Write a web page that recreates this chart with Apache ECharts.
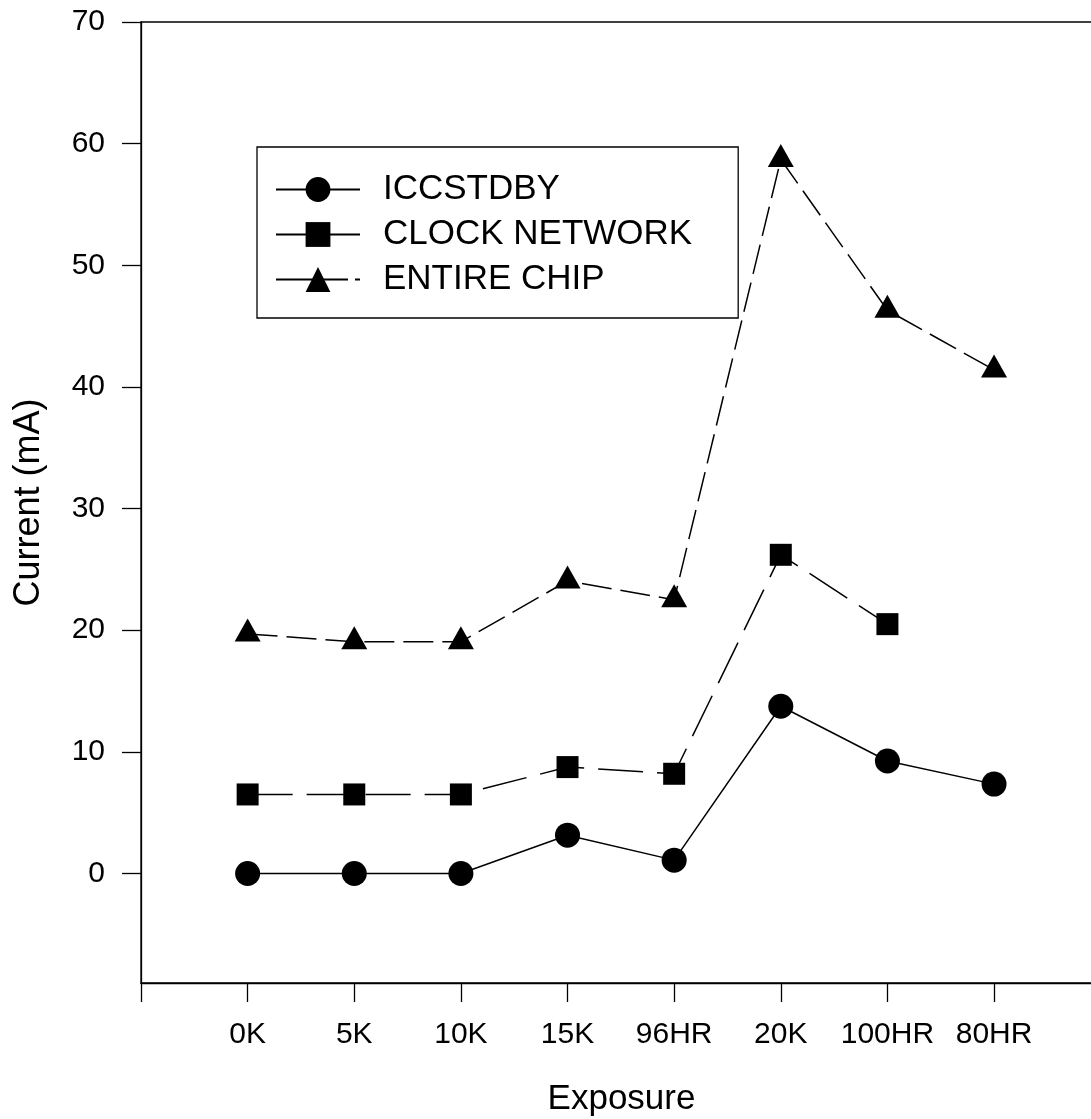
<!doctype html>
<html>
<head>
    <meta charset="utf-8">
    <title>Current vs Exposure</title>
    <script src="https://cdn.jsdelivr.net/npm/echarts@6/dist/echarts.min.js"></script>
    <style>
        html, body { margin: 0; padding: 0; background: #fff; }
        #main { width: 1091px; height: 1119px; }
    </style>
</head>
<body>
    <div id="main"></div>
    <script type="text/javascript">
        // exposure steps along the x axis
        var exposure = ['0K', '5K', '10K', '15K', '96HR', '20K', '100HR', '80HR'];
        var iccStdby = [0, 0, 0, 3.15, 1.1, 13.75, 9.25, 7.35];
        var clockNetwork = [6.5, 6.5, 6.5, 8.75, 8.2, 26.2, 20.5];   // no 80HR reading
        var entireChip = [19.7, 19.05, 19.05, 24.05, 22.5, 58.7, 46.3, 41.4];
        var yTicks = [0, 10, 20, 30, 40, 50, 60, 70];

        var FONT = "'Liberation Sans', Arial, sans-serif";

        function toPoints(arr) {
            var out = [];
            for (var i = 0; i < arr.length; i++) {
                out.push([i, arr[i]]);
            }
            return out;
        }

        var myChart = echarts.init(document.getElementById('main'));
        var option = {
            animation: false,
            textStyle: { fontFamily: FONT, color: '#000' },
            grid: {
                left: 141,
                right: -63,   // plot runs past the right edge of the picture
                top: 22,
                bottom: 136,
                outerBoundsMode: 'none',
                containLabel: false,
                show: true,
                borderColor: '#000',
                borderWidth: 1.3,
                backgroundColor: 'transparent'
            },
            legend: {
                orient: 'vertical',
                left: 257,
                top: 147,
                padding: [25, 46, 21, 18],
                itemGap: 10,
                itemWidth: 84,
                itemHeight: 31,
                borderColor: '#000',
                borderWidth: 1.3,
                textStyle: { fontFamily: FONT, fontSize: 35, color: '#000', padding: [0, 0, 0, 18] },
                data: [
                    { name: 'ICCSTDBY', lineStyle: { type: 'solid' } },
                    { name: 'CLOCK NETWORK', lineStyle: { type: 'solid' } },
                    { name: 'ENTIRE CHIP', lineStyle: { type: [72, 7] } }
                ]
            },
            xAxis: {
                type: 'value',
                min: -1,
                max: 8.5,
                interval: 1,
                name: 'Exposure',
                nameLocation: 'middle',
                nameGap: 99,
                nameTextStyle: { fontFamily: FONT, fontSize: 35, color: '#000', padding: [0, 52, 0, 0] },
                axisLine: { onZero: false, lineStyle: { color: '#000', width: 1.3 } },
                axisTick: { show: true, inside: false, length: 19, lineStyle: { color: '#000', width: 1.3 } },
                axisLabel: {
                    margin: 37,
                    fontFamily: FONT,
                    fontSize: 30,
                    color: '#000',
                    showMinLabel: true,
                    showMaxLabel: true,
                    formatter: function (v) {
                        return exposure[v] !== undefined ? exposure[v] : '';
                    }
                },
                splitLine: { show: false }
            },
            yAxis: {
                type: 'value',
                min: -9,
                max: 70,
                name: 'Current (mA)',
                nameLocation: 'middle',
                nameGap: 94,
                nameTextStyle: { fontFamily: FONT, fontSize: 36, color: '#000' },
                axisLine: { show: true, onZero: false, lineStyle: { color: '#000', width: 1.3 } },
                axisTick: { show: true, inside: false, length: 19, customValues: yTicks, lineStyle: { color: '#000', width: 1.3 } },
                axisLabel: { margin: 36, fontFamily: FONT, fontSize: 30, color: '#000', customValues: yTicks },
                splitLine: { show: false }
            },
            series: [
                {
                    name: 'ICCSTDBY',
                    type: 'line',
                    data: toPoints(iccStdby),
                    symbol: 'circle',
                    symbolSize: 25,
                    itemStyle: { color: '#000' },
                    lineStyle: { color: '#000', width: 1.5, type: 'solid' }
                },
                {
                    name: 'CLOCK NETWORK',
                    type: 'line',
                    data: toPoints(clockNetwork),
                    symbol: 'rect',
                    symbolSize: 22,
                    itemStyle: { color: '#000' },
                    lineStyle: { color: '#000', width: 1.5, type: [45, 14] }
                },
                {
                    name: 'ENTIRE CHIP',
                    type: 'line',
                    data: toPoints(entireChip),
                    symbol: 'triangle',
                    symbolSize: [26, 23],
                    symbolOffset: [0, -4],   // centre the triangle on its centroid
                    itemStyle: { color: '#000' },
                    lineStyle: { color: '#000', width: 1.5, type: [30, 9] }
                }
            ]
        };
        myChart.setOption(option);
    </script>
</body>
</html>
